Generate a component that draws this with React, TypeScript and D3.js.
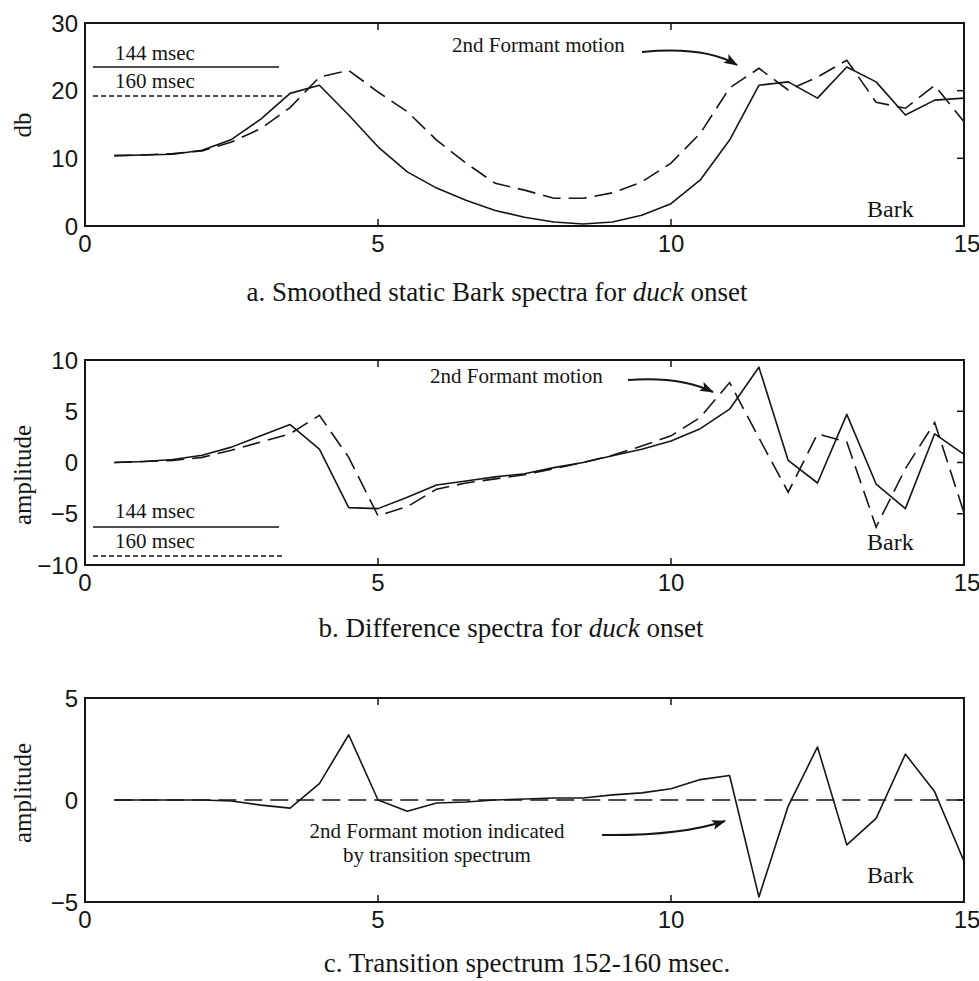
import { useEffect, useRef } from 'react';
import * as d3 from 'd3';

// Bark 축 샘플 (0.5 간격)
const bark = [
  0.5, 1, 1.5, 2, 2.5, 3, 3.5, 4, 4.5, 5, 5.5, 6, 6.5, 7, 7.5,
  8, 8.5, 9, 9.5, 10, 10.5, 11, 11.5, 12, 12.5, 13, 13.5, 14, 14.5, 15,
];

// a. static Bark spectra (db)
const static144 = [
  10.4, 10.5, 10.6, 11.2, 12.8, 15.8, 19.6, 20.8, 16.4, 11.7, 8.0, 5.6, 3.8, 2.3, 1.3,
  0.6, 0.3, 0.6, 1.6, 3.3, 6.8, 12.7, 20.8, 21.3, 18.9, 23.5, 21.3, 16.4, 18.6, 18.9,
];
const static160 = [
  10.4, 10.5, 10.7, 11.1, 12.4, 14.4, 17.5, 22.0, 23.0, 19.8, 16.9, 12.7, 9.3, 6.3, 5.3,
  4.1, 4.1, 4.9, 6.5, 9.3, 13.7, 20.4, 23.3, 20.1, 22.0, 24.5, 18.3, 17.4, 20.8, 15.4,
];

// b. difference spectra (amplitude)
const diff144 = [
  0, 0.1, 0.3, 0.7, 1.5, 2.6, 3.7, 1.3, -4.4, -4.5, -3.4, -2.2, -1.8, -1.4, -1.1,
  -0.5, 0, 0.65, 1.3, 2.1, 3.3, 5.2, 9.3, 0.2, -2.0, 4.7, -2.1, -4.5, 2.8, 0.8,
];
const diff160 = [
  0, 0.1, 0.2, 0.5, 1.2, 2.0, 2.8, 4.6, 0.5, -5.2, -4.3, -2.6, -2.0, -1.6, -1.2,
  -0.6, 0, 0.7, 1.6, 2.6, 4.4, 7.8, 2.4, -2.9, 2.8, 2.0, -6.3, -0.6, 3.9, -4.9,
];

// c. transition spectrum 152-160 msec
const transition = [
  0, 0, 0, 0, -0.05, -0.25, -0.4, 0.8, 3.2, 0, -0.55, -0.15, -0.1, 0, 0.05,
  0.1, 0.1, 0.25, 0.35, 0.55, 1.0, 1.2, -4.75, -0.3, 2.6, -2.2, -0.9, 2.25, 0.4, -3.0,
];
const transitionBase = [
  0, 0, 0, 0, 0, 0, 0, 0, 0, 0, 0, 0, 0, 0, 0,
  0, 0, 0, 0, 0, 0, 0, 0, 0, 0, 0, 0, 0, 0, 0,
];

const xTicks = [0, 5, 10, 15];
const yTicksA = [0, 10, 20, 30];
const yTicksB = [-10, -5, 0, 5, 10];
const yTicksC = [-5, 0, 5];

const W = 979;
const H = 981;
const LEFT = 85;
const RIGHT = 964;
const INK = '#151515';
const SERIF = '"Liberation Serif", "Times New Roman", serif';
const SANS = '"Liberation Sans", Arial, sans-serif';

interface Panel {
  top: number;
  bottom: number;
  domain: [number, number];
  yTicks: number[];
  yLabel: string;
  yLabelY: number;
  solid: number[];
  dashed: number[];
  barkBaseline: number;
  caption: [string, string, string];
  captionX: number;
  captionY: number;
}

const panels: Panel[] = [
  {
    top: 23, bottom: 226, domain: [0, 30], yTicks: yTicksA,
    yLabel: 'db', yLabelY: 125,
    solid: static144, dashed: static160, barkBaseline: 217,
    caption: ['a. Smoothed static Bark spectra for ', 'duck', ' onset'],
    captionX: 497, captionY: 301,
  },
  {
    top: 360, bottom: 565, domain: [-10, 10], yTicks: yTicksB,
    yLabel: 'amplitude', yLabelY: 475,
    solid: diff144, dashed: diff160, barkBaseline: 550,
    caption: ['b. Difference spectra for ', 'duck', ' onset'],
    captionX: 511, captionY: 637,
  },
  {
    top: 698, bottom: 902, domain: [-5, 5], yTicks: yTicksC,
    yLabel: 'amplitude', yLabelY: 793,
    solid: transition, dashed: transitionBase, barkBaseline: 883,
    caption: ['c. Transition spectrum 152-160 msec.', '', ''],
    captionX: 527, captionY: 972,
  },
];

export default function App() {
  const svgRef = useRef<SVGSVGElement>(null);

  useEffect(() => {
    if (!svgRef.current) return;
    const svg = d3.select(svgRef.current);
    svg.selectAll('*').remove();

    svg.append('rect').attr('width', W).attr('height', H).attr('fill', '#fff');

    // 화살촉 마커
    svg.append('defs').append('marker')
      .attr('id', 'arrowHead')
      .attr('viewBox', '0 0 14 10')
      .attr('refX', 13).attr('refY', 5)
      .attr('markerWidth', 14).attr('markerHeight', 10)
      .attr('markerUnits', 'userSpaceOnUse')
      .attr('orient', 'auto')
      .append('path')
      .attr('d', 'M0,0 L14,5 L0,10 L3,5 Z')
      .attr('fill', INK);

    const x = d3.scaleLinear().domain([0, 15]).range([LEFT, RIGHT]);

    panels.forEach((p, pi) => {
      const y = d3.scaleLinear().domain(p.domain).range([p.bottom, p.top]);
      const g = svg.append('g');

      // ── 데이터 선 ──
      const line = d3.line<number>()
        .x((_, i) => x(bark[i]))
        .y((d) => y(d));

      g.append('path')
        .datum(p.dashed)
        .attr('d', line)
        .attr('fill', 'none')
        .attr('stroke', INK)
        .attr('stroke-width', 1.6)
        .attr('stroke-dasharray', '18,8');

      g.append('path')
        .datum(p.solid)
        .attr('d', line)
        .attr('fill', 'none')
        .attr('stroke', INK)
        .attr('stroke-width', 1.6)
        .attr('stroke-linejoin', 'round');

      // ── 프레임 ──
      g.append('rect')
        .attr('x', LEFT).attr('y', p.top)
        .attr('width', RIGHT - LEFT).attr('height', p.bottom - p.top)
        .attr('fill', 'none').attr('stroke', INK).attr('stroke-width', 2);

      // ── 눈금 (안쪽) ──
      const inner = xTicks.filter((t) => t > 0 && t < 15);
      inner.forEach((t) => {
        g.append('line').attr('x1', x(t)).attr('x2', x(t))
          .attr('y1', p.top).attr('y2', p.top + 7)
          .attr('stroke', INK).attr('stroke-width', 1.5);
        g.append('line').attr('x1', x(t)).attr('x2', x(t))
          .attr('y1', p.bottom).attr('y2', p.bottom - 7)
          .attr('stroke', INK).attr('stroke-width', 1.5);
      });
      p.yTicks.filter((t) => t > p.domain[0] && t < p.domain[1]).forEach((t) => {
        g.append('line').attr('x1', RIGHT).attr('x2', RIGHT - 7)
          .attr('y1', y(t)).attr('y2', y(t))
          .attr('stroke', INK).attr('stroke-width', 1.5);
      });

      // 눈금 라벨
      xTicks.forEach((t) => {
        g.append('text')
          .attr('x', x(t) + (t === 15 ? 3 : 0))
          .attr('y', p.bottom + 26)
          .attr('text-anchor', 'middle')
          .attr('font-family', SANS).attr('font-size', 24)
          .attr('fill', INK)
          .text(String(t));
      });
      p.yTicks.forEach((t) => {
        g.append('text')
          .attr('x', 78)
          .attr('y', y(t))
          .attr('dy', '0.36em')
          .attr('text-anchor', 'end')
          .attr('font-family', SANS).attr('font-size', 24)
          .attr('fill', INK)
          .text(String(t).replace('-', '\u2212'));
      });

      // Y축 라벨
      g.append('text')
        .attr('transform', `translate(31,${p.yLabelY}) rotate(-90)`)
        .attr('text-anchor', 'middle')
        .attr('font-family', SERIF).attr('font-size', 25)
        .attr('fill', INK)
        .text(p.yLabel);

      // Bark
      g.append('text')
        .attr('x', 867).attr('y', p.barkBaseline)
        .attr('font-family', SERIF).attr('font-size', 24)
        .attr('fill', INK)
        .text('Bark');

      // 캡션
      const cap = g.append('text')
        .attr('x', p.captionX).attr('y', p.captionY)
        .attr('text-anchor', 'middle')
        .attr('font-family', SERIF).attr('font-size', 27)
        .attr('fill', INK);
      cap.append('tspan').text(p.caption[0]);
      if (p.caption[1]) cap.append('tspan').attr('font-style', 'italic').text(p.caption[1]);
      if (p.caption[2]) cap.append('tspan').text(p.caption[2]);

      // ── 범례 (a, b) ──
      if (pi < 2) {
        const off = pi === 0 ? [37, 44, 65, 73] : [158, 167, 188, 196];
        g.append('text').attr('x', 115).attr('y', p.top + off[0])
          .attr('font-family', SERIF).attr('font-size', 21).attr('fill', INK)
          .text('144 msec');
        g.append('line').attr('x1', 93).attr('x2', 279)
          .attr('y1', p.top + off[1]).attr('y2', p.top + off[1])
          .attr('stroke', INK).attr('stroke-width', 1.6);
        g.append('text').attr('x', 115).attr('y', p.top + off[2])
          .attr('font-family', SERIF).attr('font-size', 21).attr('fill', INK)
          .text('160 msec');
        g.append('line').attr('x1', 93).attr('x2', 284)
          .attr('y1', p.top + off[3]).attr('y2', p.top + off[3])
          .attr('stroke', INK).attr('stroke-width', 1.6)
          .attr('stroke-dasharray', '5,3');
      }
    });

    // ── 주석 ──
    const note = (tx: number, ty: number, lines: string[], anchor: string) => {
      const t = svg.append('text')
        .attr('x', tx).attr('y', ty)
        .attr('text-anchor', anchor)
        .attr('font-family', SERIF).attr('font-size', 21).attr('fill', INK);
      lines.forEach((l, i) => {
        t.append('tspan').attr('x', tx).attr('dy', i === 0 ? 0 : 24).text(l);
      });
    };
    const arrow = (d: string) => {
      svg.append('path').attr('d', d)
        .attr('fill', 'none').attr('stroke', INK).attr('stroke-width', 2)
        .attr('marker-end', 'url(#arrowHead)');
    };

    note(452, 52, ['2nd Formant motion'], 'start');
    arrow('M642,52 Q705,46 737,65');

    note(430, 383, ['2nd Formant motion'], 'start');
    arrow('M628,380 Q680,376 713,392');

    note(437, 838, ['2nd Formant motion indicated', 'by transition spectrum'], 'middle');
    arrow('M602,835 Q680,836 725,821');
  }, []);

  return (
    <svg
      ref={svgRef}
      width={W}
      height={H}
      style={{ position: 'absolute', left: 0, top: 0 }}
    />
  );
}
